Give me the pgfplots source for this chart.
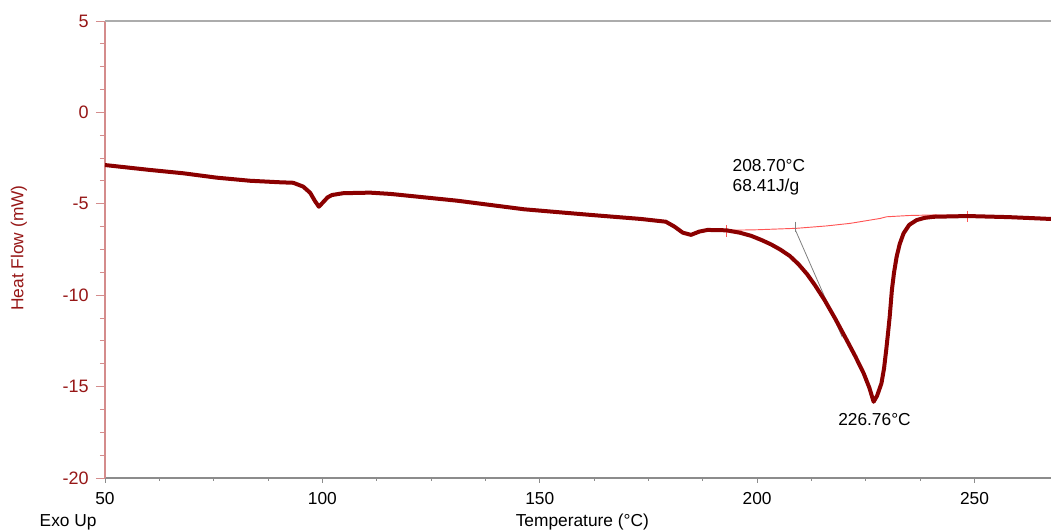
\documentclass[border=0pt]{standalone}
\usepackage{fontspec}
\setmainfont{Liberation Sans}
\usepackage{pgfplots}
\pgfplotsset{compat=1.18}

\definecolor{curve}{RGB}{139,0,0}
\definecolor{hfred}{RGB}{150,22,22}
\definecolor{yaxis}{RGB}{212,140,140}
\definecolor{baseln}{RGB}{255,85,85}
\definecolor{topgrey}{RGB}{172,172,172}
\definecolor{botgrey}{RGB}{140,140,140}

\begin{document}
\begin{tikzpicture}
\path[use as bounding box] (-78.75pt,-40.5pt) rectangle (709.5pt,358.5pt);
\begin{axis}[
    at={(0pt,0pt)}, anchor=south west,
    scale only axis,
    width=709.5pt, height=342.75pt,
    xmin=50, xmax=267.6,
    ymin=-20, ymax=5,
    axis x line*=bottom,
    axis y line*=left,
    x axis line style={botgrey, line width=0.8pt},
    y axis line style={yaxis, line width=0.8pt},
    xtick={50,100,150,200,250},
    ytick={-20,-15,-10,-5,0,5},
    minor x tick num=3,
    minor y tick num=3,
    tick align=outside,
    xtick style={botgrey, line width=0.7pt, /pgfplots/major tick length=3.75pt, /pgfplots/minor tick length=2.25pt},
    ytick style={yaxis, line width=0.7pt, /pgfplots/major tick length=6.75pt, /pgfplots/minor tick length=3.75pt},
    /pgf/number format/assume math mode=true,
    xticklabel style={font=\fontsize{13}{15}\selectfont, text=black, yshift=-3pt},
    yticklabel style={font=\fontsize{13.5}{15}\selectfont, text=hfred, xshift=-4.5pt},
    clip=false,
]
% baseline of the integration
\addplot[baseln, line width=0.7pt] coordinates {
 (192.9,-6.45) (200,-6.42) (209.1,-6.34) (216,-6.21) (221.4,-6.07)
 (225,-5.93) (228.3,-5.80) (229.8,-5.71) (235,-5.64) (240.6,-5.61) (248.5,-5.62)
};
% red limit marks
\addplot[baseln, line width=0.7pt] coordinates {(192.9,-6.16) (192.9,-6.80)};
\addplot[baseln, line width=0.7pt] coordinates {(248.5,-5.38) (248.5,-5.98)};
% onset tangent
\addplot[gray, line width=0.6pt] coordinates {(208.7,-5.98) (208.7,-6.53)};
\addplot[gray, line width=0.6pt] coordinates {(208.8,-6.43) (219.6,-12.3)};
% DSC curve
\addplot[curve, line width=3pt, line join=round] coordinates {
 (50,-2.88) (60.4,-3.15) (68,-3.33) (75.7,-3.57) (83.4,-3.74) (90,-3.82)
 (93.3,-3.85) (95.6,-4.06) (97.2,-4.40) (98.3,-4.85) (99.2,-5.16)
 (100.3,-4.88) (101.2,-4.65) (102.2,-4.52) (104.8,-4.42) (111,-4.39)
 (115.7,-4.46) (131,-4.83) (146.4,-5.30) (161.8,-5.61) (173.3,-5.83)
 (179.0,-5.98) (181.0,-6.25) (182.9,-6.58) (184.8,-6.70) (186.7,-6.52)
 (188.6,-6.43) (192.9,-6.45) (196,-6.58) (198.6,-6.75) (201,-6.98)
 (203.2,-7.22) (205.3,-7.50) (207.5,-7.85) (209.5,-8.30) (211.5,-8.85)
 (213.3,-9.45) (215.5,-10.26) (218,-11.30) (220.6,-12.45) (222.6,-13.35)
 (224.5,-14.27) (225.8,-15.05) (226.8,-15.83) (227.6,-15.5) (228.6,-14.82)
 (229.2,-14.0) (229.7,-12.99) (230.1,-12.1) (230.5,-11.17) (231.0,-9.72)
 (231.5,-8.75) (232.1,-7.89) (232.8,-7.20) (233.7,-6.61) (235,-6.15)
 (236.7,-5.89) (238.5,-5.77) (240.6,-5.71) (248.5,-5.67) (258,-5.73)
 (267.6,-5.83)
};
% top frame line
\draw[topgrey, line width=1.5pt] (rel axis cs:0,1) -- (rel axis cs:1,1);
% annotations
\node[anchor=base west, font=\fontsize{13}{15}\selectfont] at (axis cs:193.3,-3.26) {208.70°C};
\node[anchor=base west, font=\fontsize{13}{15}\selectfont] at (axis cs:193.3,-4.35) {68.41J/g};
\node[anchor=base, font=\fontsize{13}{15}\selectfont] at (axis cs:227.0,-17.15) {226.76°C};
\end{axis}
\node[anchor=base west, font=\fontsize{13}{15}\selectfont] at (-52.5pt,-36.75pt) {Exo Up};
\node[anchor=base, font=\fontsize{13}{15}\selectfont] at (358pt,-36.75pt) {Temperature (°C)};
\node[rotate=90, text=hfred, font=\fontsize{13}{15}\selectfont] at (-64.5pt,172.5pt) {Heat Flow (mW)};
\end{tikzpicture}
\end{document}
